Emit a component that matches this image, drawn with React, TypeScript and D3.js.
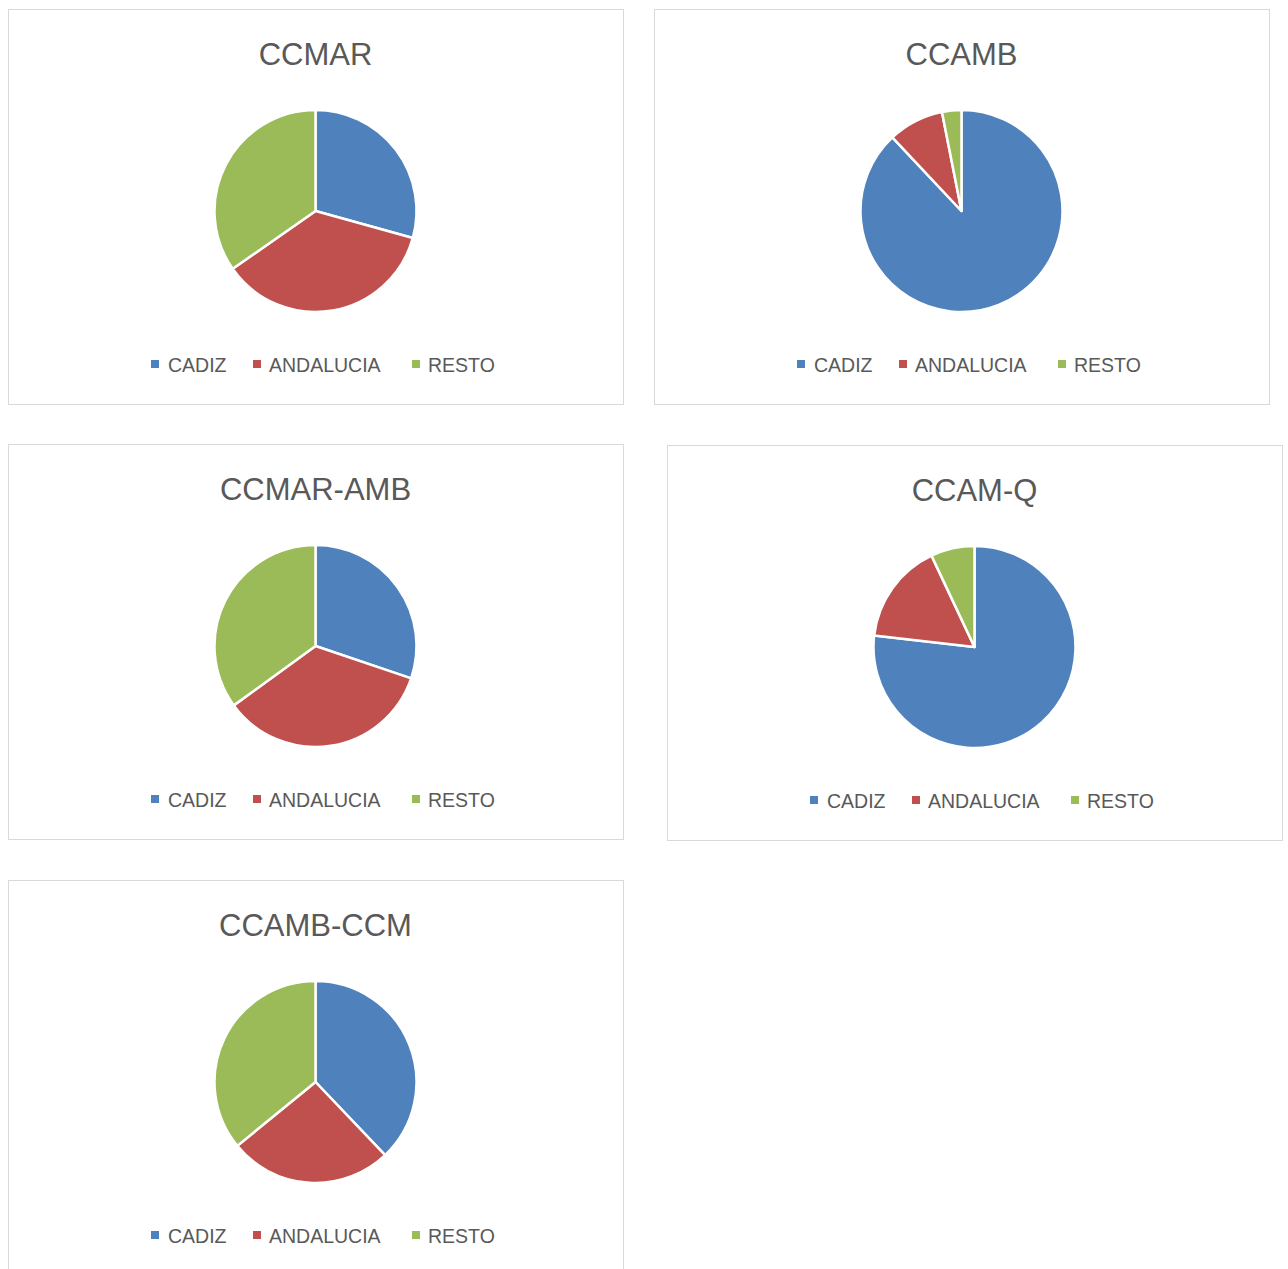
import React from "react";
import * as d3 from "d3";

const categories = ["CADIZ", "ANDALUCIA", "RESTO"];
const chartTitles = ["CCMAR", "CCAMB", "CCMAR-AMB", "CCAM-Q", "CCAMB-CCM"];
const ccmarValues = [29.3, 36.0, 34.7];
const ccambValues = [88.0, 8.9, 3.1];
const ccmarAmbValues = [30.2, 34.8, 35.0];
const ccamQValues = [76.8, 16.2, 7.0];
const ccambCcmValues = [37.9, 26.2, 35.9];
const seriesValues = [ccmarValues, ccambValues, ccmarAmbValues, ccamQValues, ccambCcmValues];

const colors = ["#4f81bd", "#c0504d", "#9bbb59"];
const panelBoxes = [
  { x: 8, y: 9 },
  { x: 654, y: 9 },
  { x: 8, y: 444 },
  { x: 667, y: 445 },
  { x: 8, y: 880 },
];
const PW = 615;
const PH = 395;
const R = 101;
const FONT = "'Liberation Sans', Arial, sans-serif";
const legendMarkerOffsets = [0, 102, 261];
const legendTextOffsets = [17, 118, 277];

function Panel({ title, values, x, y }: { title: string; values: number[]; x: number; y: number }) {
  const pie = d3.pie<number>().sort(null).value((d) => d).startAngle(0).endAngle(2 * Math.PI);
  const arcs = pie(values);
  const arc = d3.arc<d3.PieArcDatum<number>>().innerRadius(0).outerRadius(R);
  const cx = PW / 2;
  const cy = 202;
  const legendStart = cx - 164.5;
  return (
    <g transform={`translate(${x},${y})`}>
      <rect x={0.5} y={0.5} width={PW} height={PH} fill="#ffffff" stroke="#d9d9d9" strokeWidth={1} />
      <text x={cx} y={55.5} textAnchor="middle" fontFamily={FONT} fontSize={31} fill="#595959">
        {title}
      </text>
      <g transform={`translate(${cx},${cy})`}>
        {arcs.map((a, i) => (
          <path key={i} d={arc(a) || ""} fill={colors[i]} stroke="#ffffff" strokeWidth={2.5} strokeLinejoin="round" />
        ))}
      </g>
      <g transform={`translate(${legendStart},0)`}>
        {categories.map((c, i) => (
          <g key={c}>
            <rect x={legendMarkerOffsets[i]} y={351} width={8} height={8} fill={colors[i]} />
            <text x={legendTextOffsets[i]} y={362.5} fontFamily={FONT} fontSize={19.5} fill="#595959">
              {c}
            </text>
          </g>
        ))}
      </g>
    </g>
  );
}

export default function App() {
  return (
    <svg
      width={1288}
      height={1269}
      style={{ position: "absolute", left: 0, top: 0, display: "block", background: "#ffffff" }}
    >
      <rect width={1288} height={1269} fill="#ffffff" />
      {chartTitles.map((t, i) => (
        <Panel key={t} title={t} values={seriesValues[i]} x={panelBoxes[i].x} y={panelBoxes[i].y} />
      ))}
    </svg>
  );
}
